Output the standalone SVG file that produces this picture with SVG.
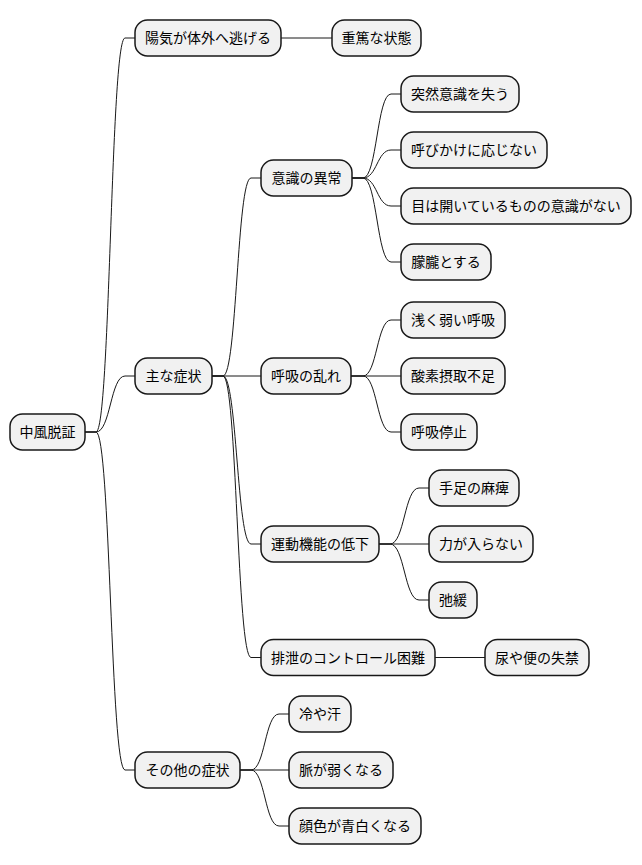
<svg xmlns="http://www.w3.org/2000/svg" width="642" height="865" viewBox="0 0 642 865">
<style>
.n rect{fill:#F1F1F1;stroke:#181818;stroke-width:1.5}
.n text{font-family:"Noto Sans CJK JP","Noto Sans CJK SC",sans-serif;font-size:14px;fill:#000;text-anchor:middle}
#connectors path{fill:none;stroke:#181818;stroke-width:1}
</style>
<rect width="642" height="865" fill="#FFFFFF"/>
<g id="connectors">
<path d="M85,432 L96,432 C110.5,432 110.5,38 125,38 L135,38"/>
<path d="M85,432 L96,432 C110.5,432 110.5,376 125,376 L135,376"/>
<path d="M85,432 L96,432 C110.5,432 110.5,770 125,770 L135,770"/>
<path d="M281,38 L332,38"/>
<path d="M212,376 L223,376 C237,376 237,178 251,178 L261,178"/>
<path d="M212,376 L261,376"/>
<path d="M212,376 L223,376 C237,376 237,544 251,544 L261,544"/>
<path d="M212,376 L223,376 C237,376 237,657.5 251,657.5 L261,657.5"/>
<path d="M352,178 L363,178 C377,178 377,94 391,94 L401,94"/>
<path d="M352,178 L363,178 C377,178 377,150 391,150 L401,150"/>
<path d="M352,178 L363,178 C377,178 377,206 391,206 L401,206"/>
<path d="M352,178 L363,178 C377,178 377,262 391,262 L401,262"/>
<path d="M351,376 L363,376 C377,376 377,320 391,320 L401,320"/>
<path d="M351,376 L401,376"/>
<path d="M351,376 L363,376 C377,376 377,432 391,432 L401,432"/>
<path d="M379,544 L390,544 C404.5,544 404.5,488 419,488 L429,488"/>
<path d="M379,544 L429,544"/>
<path d="M379,544 L390,544 C404.5,544 404.5,600 419,600 L429,600"/>
<path d="M435,657.5 L485,657.5"/>
<path d="M240,770 L251,770 C265,770 265,714 279,714 L289,714"/>
<path d="M240,770 L289,770"/>
<path d="M240,770 L251,770 C265,770 265,826 279,826 L289,826"/>
</g>
<g id="root" class="n"><rect x="10" y="414" width="75" height="36" rx="12.5"/><text x="47.5" y="437">中風脱証</text></g>
<g id="n1" class="n"><rect x="135" y="20" width="146" height="36" rx="12.5"/><text x="208" y="43">陽気が体外へ逃げる</text></g>
<g id="n1a" class="n"><rect x="332" y="20" width="89" height="36" rx="12.5"/><text x="376.5" y="43">重篤な状態</text></g>
<g id="n2" class="n"><rect x="135" y="358" width="77" height="36" rx="12.5"/><text x="173.5" y="381">主な症状</text></g>
<g id="n2a" class="n"><rect x="261" y="160" width="91" height="36" rx="12.5"/><text x="306.5" y="183">意識の異常</text></g>
<g id="n2a1" class="n"><rect x="401" y="76" width="118" height="36" rx="12.5"/><text x="460" y="99">突然意識を失う</text></g>
<g id="n2a2" class="n"><rect x="401" y="132" width="146" height="36" rx="12.5"/><text x="474" y="155">呼びかけに応じない</text></g>
<g id="n2a3" class="n"><rect x="401" y="188" width="230" height="36" rx="12.5"/><text x="516" y="211">目は開いているものの意識がない</text></g>
<g id="n2a4" class="n"><rect x="401" y="244" width="90" height="36" rx="12.5"/><text x="446" y="267">朦朧とする</text></g>
<g id="n2b" class="n"><rect x="261" y="358" width="90" height="36" rx="12.5"/><text x="306" y="381">呼吸の乱れ</text></g>
<g id="n2b1" class="n"><rect x="401" y="302" width="104" height="36" rx="12.5"/><text x="453" y="325">浅く弱い呼吸</text></g>
<g id="n2b2" class="n"><rect x="401" y="358" width="104" height="36" rx="12.5"/><text x="453" y="381">酸素摂取不足</text></g>
<g id="n2b3" class="n"><rect x="401" y="414" width="76" height="36" rx="12.5"/><text x="439" y="437">呼吸停止</text></g>
<g id="n2c" class="n"><rect x="261" y="526" width="118" height="36" rx="12.5"/><text x="320" y="549">運動機能の低下</text></g>
<g id="n2c1" class="n"><rect x="429" y="470" width="90" height="36" rx="12.5"/><text x="474" y="493">手足の麻痺</text></g>
<g id="n2c2" class="n"><rect x="429" y="526" width="104" height="36" rx="12.5"/><text x="481" y="549">力が入らない</text></g>
<g id="n2c3" class="n"><rect x="429" y="582" width="48" height="36" rx="12.5"/><text x="453" y="605">弛緩</text></g>
<g id="n2d" class="n"><rect x="261" y="639.5" width="174" height="36" rx="12.5"/><text x="348" y="662.5">排泄のコントロール困難</text></g>
<g id="n2d1" class="n"><rect x="485" y="639.5" width="104" height="36" rx="12.5"/><text x="537" y="662.5">尿や便の失禁</text></g>
<g id="n3" class="n"><rect x="135" y="752" width="105" height="36" rx="12.5"/><text x="187.5" y="775">その他の症状</text></g>
<g id="n3a" class="n"><rect x="289" y="696" width="62" height="36" rx="12.5"/><text x="320" y="719">冷や汗</text></g>
<g id="n3b" class="n"><rect x="289" y="752" width="104" height="36" rx="12.5"/><text x="341" y="775">脈が弱くなる</text></g>
<g id="n3c" class="n"><rect x="289" y="808" width="132" height="36" rx="12.5"/><text x="355" y="831">顔色が青白くなる</text></g>
</svg>
